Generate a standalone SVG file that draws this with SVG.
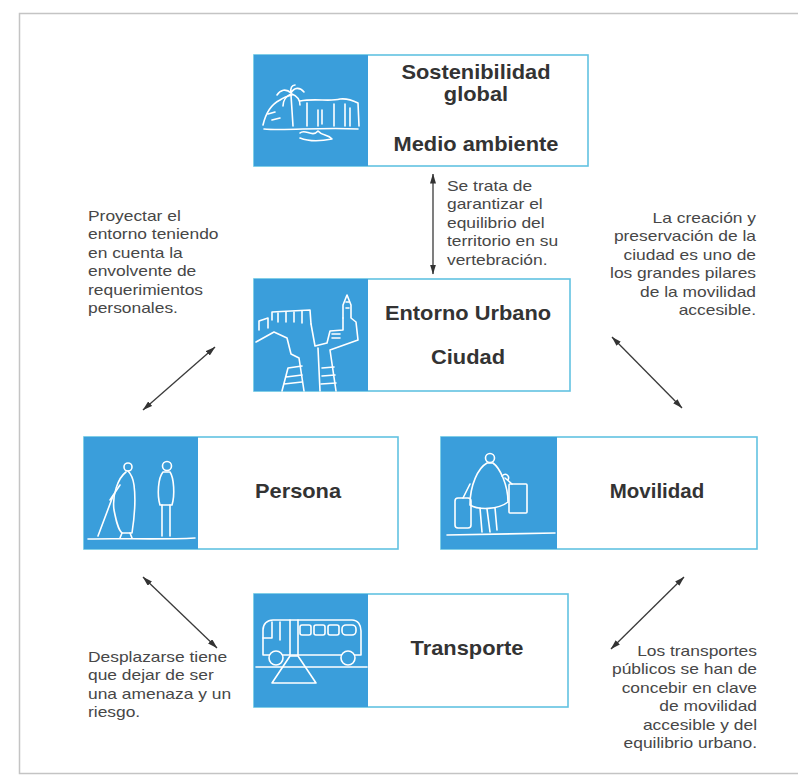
<svg xmlns="http://www.w3.org/2000/svg" width="798" height="777" viewBox="0 0 798 777">
<style>
.frame{fill:#ffffff;stroke:#c4c4c4;stroke-width:1.5}
.box{fill:#ffffff;stroke:#62c2e2;stroke-width:1.6}
.blue{fill:#3a9edb}
.ico{fill:none;stroke:#ffffff;stroke-width:1.6;stroke-linecap:round;stroke-linejoin:round}
.t{font-family:"Liberation Sans",Arial,Helvetica,sans-serif;font-weight:bold;font-size:19.5px;fill:#333333;text-anchor:middle}
.s{font-family:"Liberation Sans",Arial,Helvetica,sans-serif;font-size:15px;fill:#474747}
.r{text-anchor:end}
.arr{stroke:#3a3a3a;stroke-width:1.3;fill:none;marker-start:url(#ah);marker-end:url(#ah)}
</style>
<defs>
<marker id="ah" viewBox="0 0 10 6" refX="9.5" refY="3" markerWidth="10" markerHeight="6" markerUnits="userSpaceOnUse" orient="auto-start-reverse">
<path d="M0,0 L10,3 L0,6 Z" fill="#333333"/>
</marker>
</defs>
<rect x="0" y="0" width="798" height="777" fill="#ffffff"/>
<rect class="frame" x="19.5" y="13.5" width="800" height="760"/>

<g id="sostenibilidad">
<rect class="box" x="254" y="55" width="334" height="111"/>
<rect class="blue" x="254" y="55" width="114" height="111"/>
<g class="ico">
<path d="M263,125 C266,112 272,104 280,100 C284,97 288,96 292,95"/>
<path d="M291,95 L293,126"/>
<path d="M291,93 C286,88 280,90 277,95 M291,93 C294,87 300,87 304,92 M291,93 C290,88 292,85 295,85 M291,94 C286,96 283,101 283,106 M292,94 C297,96 300,100 300,105"/>
<path d="M300,101 C315,98 330,102 340,99 C348,98 354,101 358,103 L359,126"/>
<path d="M307,103 L307,126 M318,110 L318,126 M322,110 L322,124 M334,104 L334,126 M345,104 L345,126 M350,108 L350,126"/>
<path d="M264,129 C285,131 320,127 358,129"/>
<path d="M300,133 C305,128 312,138 318,131 C322,136 328,134 332,139 C322,141 310,142 300,138"/>
<path d="M268,114 L275,112 M272,120 L280,118"/>
</g>
<text class="t" transform="translate(476,79) scale(1.12,1)">Sostenibilidad</text>
<text class="t" transform="translate(476,101) scale(1.12,1)">global</text>
<text class="t" transform="translate(476,151) scale(1.12,1)">Medio ambiente</text>
</g>

<g id="entorno">
<rect class="box" x="254" y="279" width="316" height="112"/>
<rect class="blue" x="254" y="279" width="114" height="112"/>
<g class="ico">
<path d="M259,330 L259,321 L268,318 L268,328"/>
<path d="M272,320 L272,312 L310,310 L311,324"/>
<path d="M278,313 L278,322 M286,312 L286,322 M294,312 L294,322 M302,311 L302,323"/>
<path d="M256,342 L274,332 L287,338 L291,354 L299,358 L304,391"/>
<path d="M311,324 L315,346 L327,343 L330,331 L343,330 L343,318"/>
<path d="M343,318 L343,305 L347,295 L351,305 L351,318 L356,322 L358,340 L330,350 L336,391"/>
<path d="M346,302 L349,302 M346,308 L349,308"/>
<path d="M332,334 L340,334 M332,338 L340,338"/>
<path d="M318,348 L320,391"/>
<path d="M282,391 L288,368 L302,366 M284,384 L302,382 M286,377 L302,375"/>
<path d="M322,368 L334,367 M322,376 L335,375 M321,384 L336,383"/>
</g>
<text class="t" transform="translate(468,320) scale(1.12,1)">Entorno Urbano</text>
<text class="t" transform="translate(468,364) scale(1.12,1)">Ciudad</text>
</g>

<g id="persona">
<rect class="box" x="84" y="437" width="314" height="112"/>
<rect class="blue" x="84" y="437" width="114" height="112"/>
<g class="ico">
<circle cx="128" cy="467" r="4"/>
<path d="M126,472 C118,478 112,495 114,510 C116,520 118,530 122,533 L132,533 C134,520 136,500 134,485 C133,478 130,473 128,471"/>
<path d="M120,485 L110,500"/>
<path d="M113,496 L98,536"/>
<path d="M122,533 L120,538 M130,533 L132,538"/>
<circle cx="167" cy="466" r="4.5"/>
<path d="M163,472 C158,478 157,495 160,505 L172,505 C175,495 174,478 170,472 Z"/>
<path d="M162,505 L162,536 M170,505 L170,536"/>
<path d="M88,539 C120,538 160,540 195,538"/>
</g>
<text class="t" transform="translate(298,498) scale(1.12,1)">Persona</text>
</g>

<g id="movilidad">
<rect class="box" x="441" y="437" width="316" height="112"/>
<rect class="blue" x="441" y="437" width="116" height="112"/>
<g class="ico">
<circle cx="490" cy="458" r="4.5"/>
<path d="M487,463 C478,468 470,485 470,505 C478,510 498,510 508,502 C508,485 500,468 493,463 Z"/>
<path d="M480,508 L482,532 M487,509 L490,532 M495,508 L497,530"/>
<rect x="455" y="498" width="16" height="30" rx="3"/>
<path d="M463,498 L470,484"/>
<rect x="509" y="484" width="18" height="29" rx="1"/>
<path d="M505,478 L512,484 M502,476 C506,472 510,476 508,480"/>
<path d="M447,535 L555,533"/>
</g>
<text class="t" transform="translate(657,498) scale(1.05,1)">Movilidad</text>
</g>

<g id="transporte">
<rect class="box" x="254" y="594" width="314" height="113"/>
<rect class="blue" x="254" y="594" width="114" height="113"/>
<g class="ico">
<path d="M263,655 L263,630 C263,624 267,620 273,620 L352,620 C358,620 361,625 361,631 L361,655 Z"/>
<rect x="300" y="625" width="11" height="10" rx="2"/>
<rect x="314" y="625" width="11" height="10" rx="2"/>
<rect x="328" y="625" width="11" height="10" rx="2"/>
<rect x="342" y="625" width="14" height="10" rx="4"/>
<path d="M272,622 L272,638 L263,638 M280,622 L280,640"/>
<path d="M290,620 L290,655 M298,620 L298,655"/>
<circle cx="276" cy="658" r="7" fill="#3a9edb"/>
<circle cx="348" cy="658" r="7" fill="#3a9edb"/>
<path d="M256,667 L367,667"/>
<path d="M272,683 L290,656 L298,656 L316,683 Z"/>
</g>
<text class="t" transform="translate(467,655) scale(1.12,1)">Transporte</text>
</g>

<g id="connectors">
<line class="arr" x1="433" y1="174" x2="433" y2="274"/>
<line class="arr" x1="215" y1="347" x2="143" y2="410"/>
<line class="arr" x1="612" y1="337" x2="682" y2="408"/>
<line class="arr" x1="143" y1="577" x2="217" y2="648"/>
<line class="arr" x1="684" y1="577" x2="611" y2="649"/>
</g>

<g id="notes">
<text class="s" transform="translate(447,191) scale(1.16,1)"><tspan x="0" y="0">Se trata de</tspan><tspan x="0" y="18.4">garantizar el</tspan><tspan x="0" y="36.8">equilibrio del</tspan><tspan x="0" y="55.2">territorio en su</tspan><tspan x="0" y="73.6">vertebración.</tspan></text>
<text class="s" transform="translate(88,221) scale(1.16,1)"><tspan x="0" y="0">Proyectar el</tspan><tspan x="0" y="18.4">entorno teniendo</tspan><tspan x="0" y="36.8">en cuenta la</tspan><tspan x="0" y="55.2">envolvente de</tspan><tspan x="0" y="73.6">requerimientos</tspan><tspan x="0" y="92">personales.</tspan></text>
<text class="s r" transform="translate(756,223) scale(1.16,1)"><tspan x="0" y="0">La creación y</tspan><tspan x="0" y="18.4">preservación de la</tspan><tspan x="0" y="36.8">ciudad es uno de</tspan><tspan x="0" y="55.2">los grandes pilares</tspan><tspan x="0" y="73.6">de la movilidad</tspan><tspan x="0" y="92">accesible.</tspan></text>
<text class="s" transform="translate(88,662) scale(1.16,1)"><tspan x="0" y="0">Desplazarse tiene</tspan><tspan x="0" y="18.4">que dejar de ser</tspan><tspan x="0" y="36.8">una amenaza y un</tspan><tspan x="0" y="55.2">riesgo.</tspan></text>
<text class="s r" transform="translate(757,656) scale(1.16,1)"><tspan x="0" y="0">Los transportes</tspan><tspan x="0" y="18.4">públicos se han de</tspan><tspan x="0" y="36.8">concebir en clave</tspan><tspan x="0" y="55.2">de movilidad</tspan><tspan x="0" y="73.6">accesible y del</tspan><tspan x="0" y="92">equilibrio urbano.</tspan></text>
</g>
</svg>
